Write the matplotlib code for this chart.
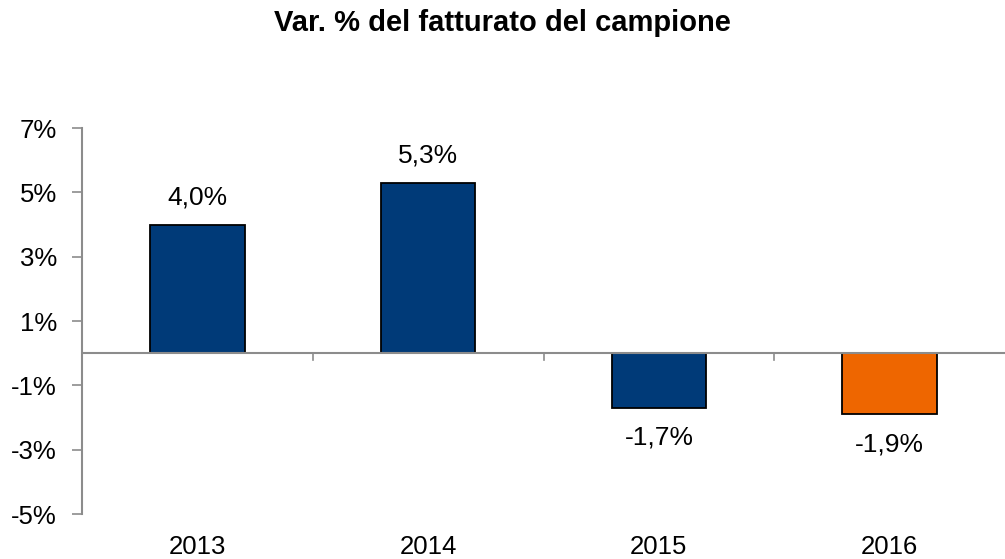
import matplotlib
matplotlib.use('Agg')
import matplotlib.pyplot as plt

# data
years = ['2013', '2014', '2015', '2016']
values = [4.0, 5.3, -1.7, -1.9]
labels = ['4,0%', '5,3%', '-1,7%', '-1,9%']
bar_colors = ['#003A78', '#003A78', '#003A78', '#EE6600']
yticks = [-5, -3, -1, 1, 3, 5, 7]

plt.rcParams['font.family'] = ['Liberation Sans', 'DejaVu Sans']
grey = '#8C8C8C'

fig = plt.figure(figsize=(10.05, 5.59), dpi=100)
ax = fig.add_axes([82/1005, 1 - 514/559, 1 - 82/1005, (514 - 128)/559])

x = range(len(years))
ax.bar(x, values, width=0.41, color=bar_colors, edgecolor='black', linewidth=1.3, zorder=2)

# zero line with category separators
ax.axhline(0, color=grey, linewidth=1.5, zorder=3)
for b in [0.5, 1.5, 2.5]:
    ax.plot([b, b], [0, -0.22], color=grey, linewidth=1.2, clip_on=False)

for i, (v, t) in enumerate(zip(values, labels)):
    if v >= 0:
        ax.annotate(t, (i, v), xytext=(0, 11), textcoords='offset points',
                    ha='center', va='bottom', fontsize=19)
    else:
        ax.annotate(t, (i, v), xytext=(0, -13), textcoords='offset points',
                    ha='center', va='top', fontsize=19)

ax.set_xlim(-0.5, 3.5)
ax.set_ylim(-5, 7)
ax.set_yticks(yticks)
ax.set_yticklabels([f'{t}%' for t in yticks], fontsize=18.5)
ax.set_xticks(list(x))
ax.set_xticklabels(years, fontsize=18.5)
ax.tick_params(axis='x', length=0, pad=15)
ax.tick_params(axis='y', length=7, width=1.2, color=grey, pad=11)

for s in ['top', 'right', 'bottom']:
    ax.spines[s].set_visible(False)
ax.spines['left'].set_color(grey)
ax.spines['left'].set_linewidth(1.5)

fig.text(0.5, 1 - 23/559, 'Var. % del fatturato del campione', ha='center', va='center',
         fontsize=21, fontweight='bold')

fig.savefig('out.png', dpi=100)
